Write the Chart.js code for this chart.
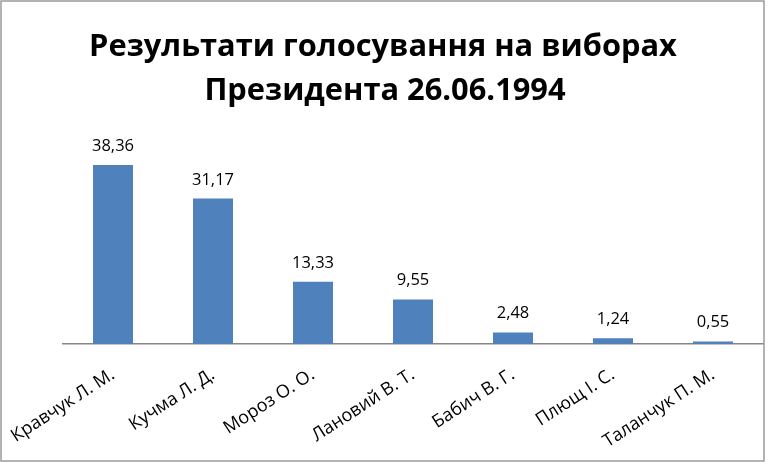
<!DOCTYPE html>
<html>
<head>
<meta charset="utf-8">
<script src="https://cdn.jsdelivr.net/npm/chart.js@4"></script>
<style>
html,body{margin:0;padding:0;background:#fff;}
#wrap{width:768px;height:462px;position:relative;}
</style>
</head>
<body>
<div id="wrap"><canvas id="c" width="768" height="462"></canvas></div>
<script>
const titleLines = ["Результати голосування на виборах", "Президента 26.06.1994"];
const categories = ["Кравчук Л. М.", "Кучма Л. Д.", "Мороз О. О.", "Лановий В. Т.", "Бабич В. Г.", "Плющ І. С.", "Таланчук П. М."];
const values = [38.36, 31.17, 13.33, 9.55, 2.48, 1.24, 0.55];
const valueLabels = ["38,36", "31,17", "13,33", "9,55", "2,48", "1,24", "0,55"];

const FONT = "'Open Sans', 'Noto Sans', sans-serif";

const titlePlugin = {
  id: 'manualTitle',
  afterDraw(chart) {
    const ctx = chart.ctx;
    ctx.save();
    ctx.font = "bold 32px " + FONT;
    const w = ctx.measureText(titleLines[0]).width;
    const size = 32 * 588 / w;
    ctx.font = "bold " + size.toFixed(2) + "px " + FONT;
    ctx.fillStyle = "#000";
    ctx.textAlign = "center";
    ctx.textBaseline = "alphabetic";
    ctx.fillText(titleLines[0], 383, 56);
    ctx.fillText(titleLines[1], 385, 100);
    ctx.restore();
  }
};

const labelPlugin = {
  id: 'valueLabels',
  afterDatasetsDraw(chart) {
    const ctx = chart.ctx;
    const meta = chart.getDatasetMeta(0);
    ctx.save();
    ctx.font = "16.5px " + FONT;
    ctx.fillStyle = "#000";
    ctx.textAlign = "center";
    ctx.textBaseline = "alphabetic";
    meta.data.forEach((bar, i) => {
      ctx.fillText(valueLabels[i], bar.x, bar.y - 14);
    });
    ctx.restore();
  }
};

const borderPlugin = {
  id: 'frame',
  afterDraw(chart) {
    const ctx = chart.ctx;
    ctx.save();
    ctx.strokeStyle = "#9a9a9a";
    ctx.lineWidth = 1.5;
    ctx.strokeRect(1, 1, 763, 460);
    ctx.restore();
  }
};

new Chart(document.getElementById('c'), {
  type: 'bar',
  data: {
    labels: categories,
    datasets: [{
      data: values,
      backgroundColor: '#4F81BD',
      borderWidth: 0,
      categoryPercentage: 1.0,
      barPercentage: 0.4
    }]
  },
  options: {
    responsive: false,
    animation: false,
    devicePixelRatio: 1,
    layout: { padding: { left: 63, right: 5, top: 134, bottom: 0 } },
    plugins: {
      legend: { display: false },
      tooltip: { enabled: false },
      title: { display: false }
    },
    scales: {
      x: {
        afterFit(scale) { scale.height = 118; scale.paddingLeft = 0; scale.paddingRight = 0; },
        grid: { display: false, drawTicks: false },
        border: { display: true, color: '#868686', width: 1.5 },
        ticks: {
          color: '#000',
          font: { family: FONT, size: 18 },
          minRotation: 33,
          maxRotation: 33,
          padding: 20,
          autoSkip: false
        }
      },
      y: {
        display: false,
        min: 0,
        max: 45
      }
    }
  },
  plugins: [labelPlugin, titlePlugin, borderPlugin]
});
</script>
</body>
</html>
